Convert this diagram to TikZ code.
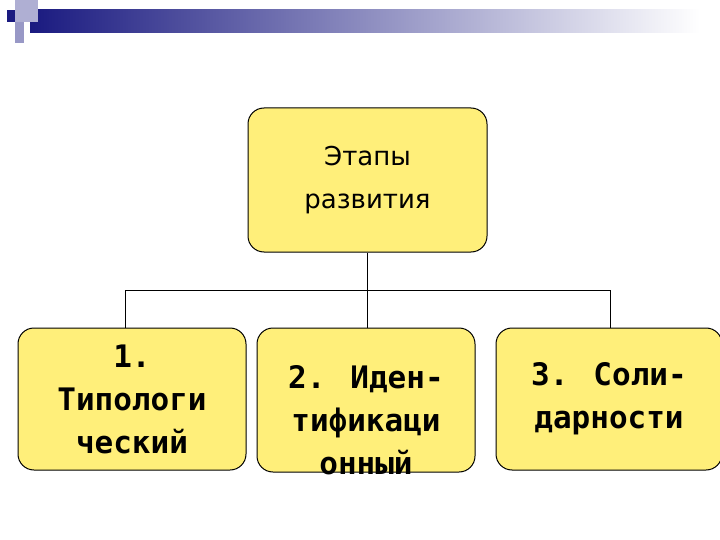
\documentclass[tikz,border=0pt]{standalone}
\usepackage{fontspec}
\setmainfont{DejaVu Sans}
\newfontfamily\monof{DejaVu Sans Mono}
\begin{document}
\begin{tikzpicture}[x=1pt,y=-1pt,
  ybox/.style={draw=black,line width=1pt,fill=yel,rounded corners=16pt,align=center,inner sep=0pt},
  btxt/.style={font=\monof\bfseries\fontsize{31}{43}\selectfont,align=center},
  conn/.style={draw=black,line width=1pt}]
\definecolor{yel}{HTML}{FFEF7A}
\definecolor{navy}{HTML}{1A1A80}
\useasboundingbox (0,0) rectangle (720,540);
% header decoration
\shade[left color=navy,right color=white] (30,10) rectangle (700,33);
\fill[navy] (7,10) rectangle (15,22);
\fill[navy!35] (15,0) rectangle (38,22);
\fill[navy!45] (15,22) rectangle (24,43);
% boxes
\node[ybox,minimum width=239pt,minimum height=144pt,font=\fontsize{26}{43}\selectfont] (top) at (367.5,180) {Этапы\\развития};
\node[ybox,minimum width=228pt,minimum height=142pt,btxt] (b1) at (132,399) {1.\\Типологи\\ческий};
\node[ybox,minimum width=218pt,minimum height=144pt] (b2) at (366,400) {};
\node[btxt] (t2) at (366,420) {2. Иден-\\тификаци\\онный};
\node[ybox,minimum width=226pt,minimum height=142pt,btxt] (b3) at (609,399) {3. Соли-\\дарности};
% connectors
\coordinate (j) at (367.5,290);
\coordinate (l) at (125,290);
\coordinate (r) at (610,290);
\draw[conn] (top.south) -- (j);
\draw[conn] (l) -- (r);
\draw[conn] (l) -- (l |- b1.north);
\draw[conn] (j) -- (j |- b2.north);
\draw[conn] (r) -- (r |- b3.north);
\end{tikzpicture}
\end{document}
